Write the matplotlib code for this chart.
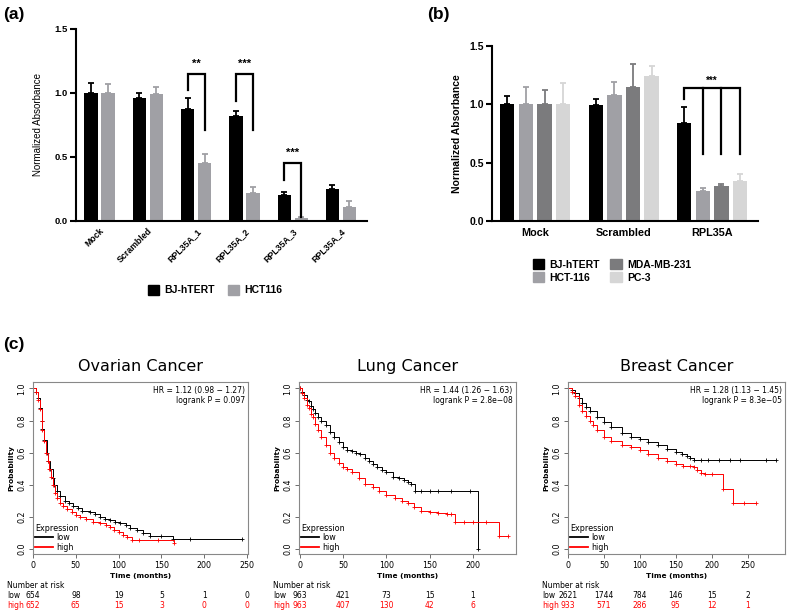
import numpy as np
import matplotlib
matplotlib.use("Agg")
import matplotlib.pyplot as plt
from matplotlib.patches import Patch
from matplotlib.lines import Line2D
from matplotlib.transforms import blended_transform_factory

# ---- panel (a) data ----
a_groups = ["Mock", "Scrambled", "RPL35A_1", "RPL35A_2", "RPL35A_3", "RPL35A_4"]
a_bj = [1.0, 0.96, 0.875, 0.82, 0.20, 0.25]
a_bj_err = [0.075, 0.04, 0.085, 0.04, 0.03, 0.035]
a_hct = [1.0, 0.99, 0.455, 0.22, 0.02, 0.11]
a_hct_err = [0.07, 0.06, 0.07, 0.045, 0.015, 0.05]
# group index, bracket top, left leg bottom, right leg bottom, label
a_sig = [(2, 1.145, 1.02, 0.71, "**"), (3, 1.145, 0.94, 0.71, "***"), (4, 0.455, 0.32, 0.035, "***")]

# ---- panel (b) data ----
b_groups = ["Mock", "Scrambled", "RPL35A"]
b_lines = ["BJ-hTERT", "HCT-116", "MDA-MB-231", "PC-3"]
b_vals = [[1.0, 0.995, 0.84], [1.0, 1.08, 0.26], [1.0, 1.15, 0.30], [1.0, 1.24, 0.345]]
b_errs = [[0.07, 0.055, 0.135], [0.145, 0.11, 0.025], [0.125, 0.20, 0.02], [0.185, 0.09, 0.055]]

# ---- panel (c) data: Kaplan-Meier curves ----
ov_t_low = [0, 3, 6, 8, 10, 11, 13, 16, 18, 20, 23, 25, 28, 31, 37, 42, 47, 52, 57, 66, 72, 78, 84, 90, 96, 102, 108, 113, 121, 129, 137, 150, 164, 183, 244]
ov_s_low = [1.0, 0.98, 0.94, 0.88, 0.8, 0.75, 0.68, 0.6, 0.55, 0.5, 0.44, 0.4, 0.36, 0.33, 0.3, 0.285, 0.27, 0.255, 0.24, 0.23, 0.22, 0.2, 0.19, 0.18, 0.17, 0.16, 0.15, 0.13, 0.12, 0.1, 0.085, 0.085, 0.065, 0.065, 0.065]
ov_t_high = [0, 3, 6, 8, 10, 11, 13, 15, 17, 19, 21, 23, 26, 28, 32, 35, 40, 45, 50, 55, 62, 70, 78, 85, 90, 95, 100, 105, 110, 115, 124, 146, 165]
ov_s_high = [1.0, 0.98, 0.93, 0.87, 0.8, 0.74, 0.67, 0.6, 0.55, 0.5, 0.45, 0.4, 0.35, 0.32, 0.29, 0.27, 0.25, 0.23, 0.215, 0.2, 0.185, 0.17, 0.16, 0.15, 0.135, 0.12, 0.105, 0.09, 0.075, 0.06, 0.06, 0.06, 0.04]

lu_t_low = [0, 3, 5, 8, 10, 13, 15, 18, 21, 25, 30, 35, 40, 45, 50, 55, 60, 65, 69, 75, 80, 85, 89, 95, 100, 108, 115, 120, 125, 129, 133, 140, 150, 160, 175, 197, 206]
lu_s_low = [1.0, 0.98, 0.96, 0.93, 0.92, 0.89, 0.87, 0.85, 0.82, 0.8, 0.77, 0.73, 0.7, 0.665, 0.635, 0.62, 0.61, 0.6, 0.59, 0.57, 0.55, 0.53, 0.51, 0.49, 0.48, 0.45, 0.44, 0.43, 0.42, 0.405, 0.365, 0.365, 0.365, 0.365, 0.365, 0.365, 0.0]
lu_t_high = [0, 3, 5, 8, 10, 13, 15, 18, 21, 25, 30, 35, 40, 45, 50, 55, 60, 68, 75, 85, 92, 100, 110, 118, 125, 132, 140, 150, 160, 170, 175, 180, 190, 200, 215, 230, 241]
lu_s_high = [1.0, 0.97, 0.94, 0.9, 0.88, 0.84, 0.82, 0.78, 0.74, 0.7, 0.65, 0.6, 0.57, 0.535, 0.51, 0.5, 0.48, 0.44, 0.405, 0.385, 0.365, 0.34, 0.32, 0.3, 0.29, 0.265, 0.24, 0.23, 0.225, 0.22, 0.22, 0.17, 0.17, 0.17, 0.17, 0.083, 0.083]

br_t_low = [0, 5, 10, 15, 20, 25, 30, 40, 50, 60, 75, 88, 100, 112, 125, 138, 150, 158, 165, 170, 175, 185, 195, 210, 225, 240, 275, 290]
br_s_low = [1.0, 0.99, 0.97, 0.94, 0.91, 0.885, 0.86, 0.82, 0.79, 0.76, 0.72, 0.7, 0.685, 0.665, 0.645, 0.625, 0.605, 0.59, 0.58, 0.57, 0.555, 0.555, 0.555, 0.555, 0.555, 0.555, 0.555, 0.555]
br_t_high = [0, 5, 10, 15, 20, 25, 30, 35, 40, 50, 60, 75, 88, 100, 112, 125, 138, 150, 160, 170, 175, 180, 185, 190, 200, 216, 230, 245, 262]
br_s_high = [1.0, 0.98, 0.95, 0.9, 0.86, 0.83, 0.8, 0.77, 0.74, 0.7, 0.675, 0.645, 0.635, 0.62, 0.595, 0.57, 0.55, 0.53, 0.52, 0.515, 0.51, 0.49, 0.475, 0.465, 0.465, 0.375, 0.285, 0.285, 0.285]

ov_ticks = [0, 50, 100, 150, 200, 250]
ov_risk_low = [654, 98, 19, 5, 1, 0]
ov_risk_high = [652, 65, 15, 3, 0, 0]
lu_ticks = [0, 50, 100, 150, 200]
lu_risk_low = [963, 421, 73, 15, 1]
lu_risk_high = [963, 407, 130, 42, 6]
br_ticks = [0, 50, 100, 150, 200, 250]
br_risk_low = [2621, 1744, 784, 146, 15, 2]
br_risk_high = [933, 571, 286, 95, 12, 1]

W, H = 787, 613
fig = plt.figure(figsize=(W / 100, H / 100), dpi=100)


def rect(l, t, r, b):
    return [l / W, 1 - b / H, (r - l) / W, (b - t) / H]


BAR_FONT = "Liberation Sans"
black = "#000000"
gray = "#a0a0a5"
dgray = "#7b7b7d"
lgray = "#d6d6d6"


def prism_axes(ax):
    for s in ["top", "right"]:
        ax.spines[s].set_visible(False)
    for s in ["left", "bottom"]:
        ax.spines[s].set_linewidth(1.5)
    ax.set_ylim(0, 1.5)
    ax.set_yticks([0, 0.5, 1.0, 1.5])
    ax.set_yticklabels(["0.0", "0.5", "1.0", "1.5"], fontfamily=BAR_FONT, fontweight="bold")
    ax.tick_params(axis="y", direction="out", length=4, width=1.5, pad=2)
    ax.tick_params(axis="x", length=0)


# ---------------- (a) ----------------
ax = fig.add_axes(rect(76, 29, 367, 221))
x = np.arange(len(a_groups))
w, off = 0.276, 0.176
n = len(a_groups)
ax.bar(x - off, a_bj, w, color=black, yerr=[[0] * n, a_bj_err], capsize=2.2,
       error_kw=dict(ecolor=black, elinewidth=1.3, capthick=1.3))
ax.bar(x + off, a_hct, w, color=gray, yerr=[[0] * n, a_hct_err], capsize=2.2,
       error_kw=dict(ecolor=gray, elinewidth=1.3, capthick=1.3))
prism_axes(ax)
ax.tick_params(axis="y", labelsize=6.8)
ax.set_xlim(-0.49, 5.54)
ax.set_xticks(x)
ax.set_xticklabels(a_groups, rotation=45, ha="right", rotation_mode="anchor",
                   fontsize=6.3, fontfamily=BAR_FONT, fontweight="bold")
ax.tick_params(axis="x", pad=4)
ax.set_ylabel("Normalized Absorbance", fontsize=7, fontfamily=BAR_FONT, labelpad=8)
for g, top, lb, rb, lab in a_sig:
    xl, xr = g - off, g + off
    ax.plot([xl, xl, xr, xr], [lb, top, top, rb], color="black", lw=1.6, solid_joinstyle="miter")
    ax.text(g, top + 0.04, lab, ha="center", va="bottom", fontsize=8, fontweight="bold", fontfamily=BAR_FONT)
fig.legend(handles=[Patch(color=black, label="BJ-hTERT"), Patch(color=gray, label="HCT116")],
           loc="center", bbox_to_anchor=(215 / W, 1 - 290 / H), ncol=2, frameon=False,
           handlelength=1.1, handleheight=1.1, handletextpad=0.5, columnspacing=1.2,
           prop=dict(family=BAR_FONT, weight="bold", size=7.5))
fig.text(3 / W, 1 - 15 / H, "(a)", fontsize=12.5, fontweight="bold", fontfamily=BAR_FONT, va="center")

# ---------------- (b) ----------------
ax = fig.add_axes(rect(492, 46, 758, 221))
xb = np.arange(len(b_groups))
bw, bs = 0.162, 0.211
b_cols = [black, gray, dgray, lgray]
for i in range(4):
    pos = xb + (i - 1.5) * bs
    ax.bar(pos, b_vals[i], bw, color=b_cols[i], yerr=[[0] * 3, b_errs[i]], capsize=2.2,
           error_kw=dict(ecolor=b_cols[i], elinewidth=1.3, capthick=1.3), label=b_lines[i])
prism_axes(ax)
ax.tick_params(axis="y", labelsize=7.5)
ax.set_xlim(-0.49, 2.52)
ax.set_xticks(xb)
ax.set_xticklabels(b_groups, fontsize=7.8, fontfamily=BAR_FONT, fontweight="bold")
ax.tick_params(axis="x", pad=5)
ax.set_ylabel("Normalized Absorbance", fontsize=7.5, fontfamily=BAR_FONT, fontweight="bold", labelpad=5)
g = 2
legs = [g + (i - 1.5) * bs for i in range(4)]
ax.plot([legs[0], legs[0], legs[3], legs[3]], [1.05, 1.137, 1.137, 0.574], color="black", lw=1.6,
        solid_joinstyle="miter")
for lx in legs[1:3]:
    ax.plot([lx, lx], [1.137, 0.574], color="black", lw=1.6)
ax.text((legs[0] + legs[3]) / 2, 1.16, "***", ha="center", va="bottom", fontsize=7, fontweight="bold",
        fontfamily=BAR_FONT)
fig.legend(handles=[Patch(color=c, label=l) for c, l in zip(b_cols, b_lines)],
           loc="center", bbox_to_anchor=(612 / W, 1 - 271 / H), ncol=2, frameon=False,
           handlelength=1.1, handleheight=1.1, handletextpad=0.5, columnspacing=1.0, labelspacing=0.25,
           prop=dict(family=BAR_FONT, weight="bold", size=7.5))
fig.text(427 / W, 1 - 15 / H, "(b)", fontsize=12.5, fontweight="bold", fontfamily=BAR_FONT, va="center")

# ---------------- (c) ----------------
fig.text(3 / W, 1 - 344 / H, "(c)", fontsize=12.5, fontweight="bold", fontfamily=BAR_FONT, va="center")

km_panels = [
    ("Ovarian Cancer", (33, 382, 248, 554), (0, 251), ov_ticks,
     ov_t_low, ov_s_low, ov_t_high, ov_s_high, "HR = 1.12 (0.98 \u2212 1.27)", "logrank P = 0.097",
     ov_risk_low, ov_risk_high, 7),
    ("Lung Cancer", (299, 382, 516, 554), (-1, 250), lu_ticks,
     lu_t_low, lu_s_low, lu_t_high, lu_s_high, "HR = 1.44 (1.26 \u2212 1.63)", "logrank P = 2.8e\u221208",
     lu_risk_low, lu_risk_high, 273),
    ("Breast Cancer", (568, 382, 785, 554), (0, 302), br_ticks,
     br_t_low, br_s_low, br_t_high, br_s_high, "HR = 1.28 (1.13 \u2212 1.45)", "logrank P = 8.3e\u221205",
     br_risk_low, br_risk_high, 542),
]

for (title, box, xl, ticks, tl, sl, th, sh, hr, lp, rl, rh, lx) in km_panels:
    ax = fig.add_axes(rect(*box))
    ax.step(tl, sl, where="post", color="black", lw=0.7)
    ax.plot(tl, sl, ls="none", marker="+", ms=3.5, mew=0.6, color="black")
    ax.step(th, sh, where="post", color="red", lw=0.7)
    ax.plot(th, sh, ls="none", marker="+", ms=3.5, mew=0.6, color="red")
    ax.set_xlim(*xl)
    ax.set_ylim(-0.03, 1.04)
    ax.set_xticks(ticks)
    ax.set_yticks([0, 0.2, 0.4, 0.6, 0.8, 1.0])
    ax.set_yticklabels(["0.0", "0.2", "0.4", "0.6", "0.8", "1.0"], rotation=90, va="center")
    ax.tick_params(labelsize=5.7, length=3, width=0.6, color="#555555", pad=2)
    for s in ax.spines.values():
        s.set_color("#888888")
        s.set_linewidth(0.8)
    ax.set_xlabel("Time (months)", fontsize=5.3, fontweight="bold", labelpad=2)
    ax.set_ylabel("Probability", fontsize=5.3, fontweight="bold", labelpad=2)
    ax.set_title(title, fontsize=11.5, pad=8)
    ax.text(0.985, 0.975, hr + "\n" + lp, transform=ax.transAxes, ha="right", va="top",
            fontsize=5.5, linespacing=1.15)
    leg = ax.legend(handles=[Line2D([], [], color="black", lw=1.3, label="low"),
                             Line2D([], [], color="red", lw=1.3, label="high")],
                    title="Expression", loc="lower left", frameon=False, fontsize=5.8,
                    title_fontsize=5.8, handlelength=2.2, handletextpad=0.4, labelspacing=0.05,
                    borderaxespad=0.2, borderpad=0.1, alignment="left")
    tr = blended_transform_factory(ax.transData, fig.transFigure)
    fig.text(lx / W, 1 - 586 / H, "Number at risk", fontsize=5.5, va="center")
    fig.text(lx / W, 1 - 596 / H, "low", fontsize=5.5, va="center")
    fig.text(lx / W, 1 - 605 / H, "high", fontsize=5.5, va="center", color="red")
    for t, vlow, vhigh in zip(ticks, rl, rh):
        ax.text(t, 1 - 596 / H, str(vlow), transform=tr, fontsize=5.5, ha="center", va="center")
        ax.text(t, 1 - 605 / H, str(vhigh), transform=tr, fontsize=5.5, ha="center", va="center", color="red")

fig.savefig("out.png", dpi=100)
